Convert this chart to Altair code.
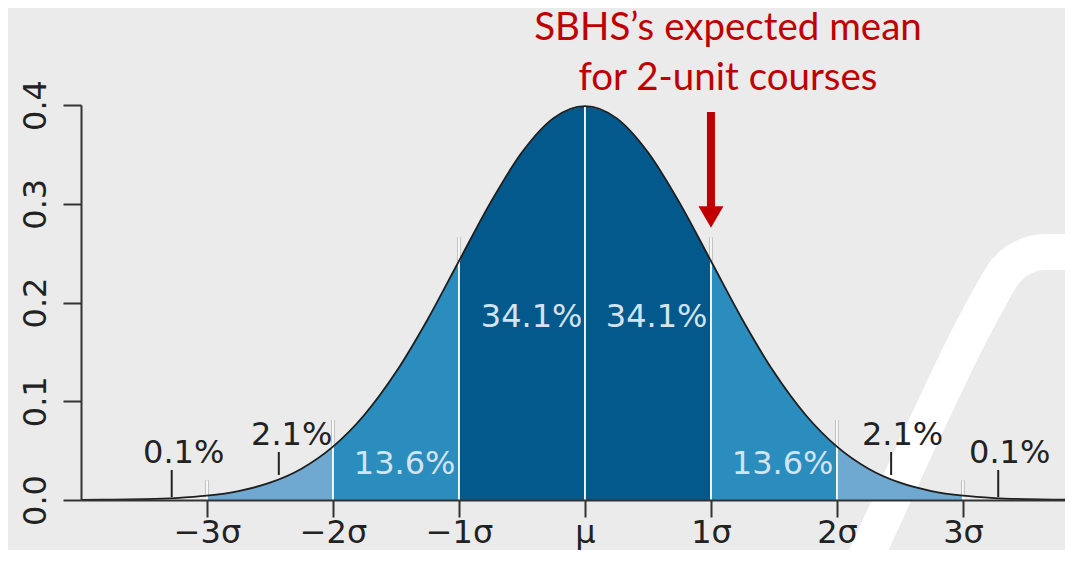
import altair as alt
import pandas as pd

# ---- data ----
xs = [-4.0, -3.75, -3.5, -3.25, -3.0, -2.75, -2.5, -2.25, -2.0, -1.75, -1.5, -1.25, -1.0,
      -0.75, -0.5, -0.25, 0.0, 0.25, 0.5, 0.75, 1.0, 1.25, 1.5, 1.75, 2.0, 2.25, 2.5,
      2.75, 3.0, 3.25, 3.5, 3.75, 4.0]
dens = [0.0001, 0.0004, 0.0009, 0.0020, 0.0044, 0.0091, 0.0175, 0.0317, 0.0540, 0.0863,
        0.1295, 0.1826, 0.2420, 0.3011, 0.3521, 0.3867, 0.3989, 0.3867, 0.3521, 0.3011,
        0.2420, 0.1826, 0.1295, 0.0863, 0.0540, 0.0317, 0.0175, 0.0091, 0.0044, 0.0020,
        0.0009, 0.0004, 0.0001]

band_names = ["L3", "L2", "L1", "R1", "R2", "R3"]
band_lo = [-3, -2, -1, 0, 1, 2]
band_hi = [-2, -1, 0, 1, 2, 3]
band_colors = ["#6fa8d0", "#2b8cbe", "#04598c", "#04598c", "#2b8cbe", "#6fa8d0"]

sigma_pos = [-3, -2, -1, 0, 1, 2, 3]
sigma_labels = ["−3σ", "−2σ", "−1σ", "μ", "1σ", "2σ", "3σ"]
rule_top = [0.020, 0.081, 0.266, 0.3989, 0.266, 0.081, 0.020]

pct_labels = ["0.1%", "2.1%", "13.6%", "34.1%", "34.1%", "13.6%", "2.1%", "0.1%"]
pct_x = [-3.185, -2.328, -1.431, -0.423, 0.569, 1.569, 2.521, 3.371]
pct_y = [0.0375, 0.0557, 0.0263, 0.175, 0.175, 0.0263, 0.0557, 0.0375]
pct_tone = ["dark", "dark", "light", "light", "light", "light", "dark", "dark"]

lead_x = [-3.28, -2.43, 2.43, 3.28]
lead_y0 = [0.003, 0.0253, 0.0253, 0.003]
lead_y1 = [0.0304, 0.0486, 0.0486, 0.0304]

title_lines = ["SBHS’s expected mean", "for 2-unit courses"]
title_x = [1.135, 1.135]
title_y = [0.4658, 0.4152]

arrow_x = [1.0]
arrow_top = [0.3929]
arrow_bot = [0.290]
arrow_head = [0.2866]

# decorative white band of the slide background (in chart units)
deco_x = [2.024, 2.206, 2.802, 3.032, 3.214, 3.333, 3.468, 3.651, 4.087]
deco_y = [-0.1144, -0.0638, 0.1013, 0.1620, 0.2056, 0.2309, 0.2451, 0.2511, 0.2511]

# ---- tables ----
curve = pd.DataFrame({"x": xs, "d": dens})
dmap = dict(zip(xs, dens))
rows = []
for name, lo, hi in zip(band_names, band_lo, band_hi):
    for x, d in zip(xs, dens):
        if lo <= x <= hi:
            rows.append({"band": name, "x": x, "d": d})
areas_df = pd.DataFrame(rows)
rules_df = pd.DataFrame({"x": sigma_pos, "top": rule_top,
                         "base": [dmap[float(s)] for s in sigma_pos]})
pct_df = pd.DataFrame({"t": pct_labels, "x": pct_x, "y": pct_y, "tone": pct_tone})
lead_df = pd.DataFrame({"x": lead_x, "y0": lead_y0, "y1": lead_y1})
title_df = pd.DataFrame({"t": title_lines, "x": title_x, "y": title_y})
arrow_df = pd.DataFrame({"x": arrow_x, "top": arrow_top, "bot": arrow_bot, "head": arrow_head})
deco_df = pd.DataFrame({"x": deco_x, "y": deco_y, "i": list(range(len(deco_x)))})

xscale = alt.Scale(domain=[-4, 3.81], nice=False, zero=False)
yscale = alt.Scale(domain=[0, 0.4], nice=False, zero=False)

label_expr = "[" + ",".join("'%s'" % s for s in sigma_labels) + "][datum.value + 3]"

xaxis = alt.Axis(values=sigma_pos, labelExpr=label_expr, title="", grid=False,
                 tickSize=17, tickWidth=2, tickColor="#333333",
                 domainColor="#333333", domainWidth=2,
                 labelFont="DejaVu Sans", labelFontSize=32, labelColor="#222222",
                 labelBaseline="alphabetic", labelPadding=25, labelFlush=False, zindex=1)
yaxis = alt.Axis(values=[0, 0.1, 0.2, 0.3, 0.4], format=".1f", title="", grid=False,
                 tickSize=18, tickWidth=2, tickColor="#333333",
                 domainColor="#333333", domainWidth=2,
                 labelFont="DejaVu Sans", labelFontSize=32, labelColor="#222222",
                 labelAngle=270, labelAlign="center", labelBaseline="alphabetic",
                 labelPadding=18, labelFlush=False, zindex=1)

deco = alt.Chart(deco_df).mark_line(color="white", strokeWidth=36, interpolate="monotone",
                                    strokeCap="butt", clip=False).encode(
    x=alt.X("x:Q", scale=xscale, axis=xaxis),
    y=alt.Y("y:Q", scale=yscale, axis=yaxis),
    order="i:Q",
)

areas = alt.Chart(areas_df).mark_area(interpolate="monotone", clip=True, opacity=1).encode(
    x=alt.X("x:Q", scale=xscale),
    y=alt.Y("d:Q", scale=yscale, stack=None),
    color=alt.Color("band:N", scale=alt.Scale(domain=band_names, range=band_colors), legend=None),
    detail="band:N",
)

grey_rules = alt.Chart(rules_df).mark_rule(color="#a8a8a8", strokeWidth=3.2).encode(
    x="x:Q", y="base:Q", y2="top:Q")
white_rules = alt.Chart(rules_df).mark_rule(color="white", strokeWidth=1.8).encode(
    x="x:Q", y=alt.Y("top:Q"), y2=alt.datum(0))

line = alt.Chart(curve).mark_line(color="#1e1e1e", strokeWidth=1.8, interpolate="monotone",
                                  clip=True).encode(x="x:Q", y="d:Q")

leads = alt.Chart(lead_df).mark_rule(color="#222222", strokeWidth=2).encode(
    x="x:Q", y="y0:Q", y2="y1:Q")

pct_dark = alt.Chart(pct_df).transform_filter("datum.tone == 'dark'").mark_text(
    font="DejaVu Sans", fontSize=32, align="center", baseline="alphabetic",
    color="#222222").encode(x="x:Q", y="y:Q", text="t:N")
pct_light = alt.Chart(pct_df).transform_filter("datum.tone == 'light'").mark_text(
    font="DejaVu Sans", fontSize=32, align="center", baseline="alphabetic",
    color="#d3e3ef").encode(x="x:Q", y="y:Q", text="t:N")

title = alt.Chart(title_df).mark_text(font="Lato", fontSize=38.5, align="center",
                                      baseline="alphabetic", color="#c00000").encode(
    x="x:Q", y="y:Q", text="t:N")

shaft = alt.Chart(arrow_df).mark_rule(color="#c00000", strokeWidth=8, strokeCap="butt").encode(
    x="x:Q", y="top:Q", y2="bot:Q")
head = alt.Chart(arrow_df).mark_point(shape="triangle-down", size=625, filled=True,
                                      color="#c00000", opacity=1, strokeWidth=0).encode(
    x="x:Q", y="head:Q")

chart = alt.layer(deco, areas, grey_rules, white_rules, line, leads, pct_dark, pct_light,
                  title, shaft, head).properties(
    width=984, height=395,
    autosize=alt.AutoSizeParams(type="none"),
    padding={"left": 73, "top": 97, "right": 0, "bottom": 50},
    background="#ebebeb",
).configure_view(strokeWidth=0)

chart.save("out.html", embed_options={"renderer": "svg", "actions": False})
